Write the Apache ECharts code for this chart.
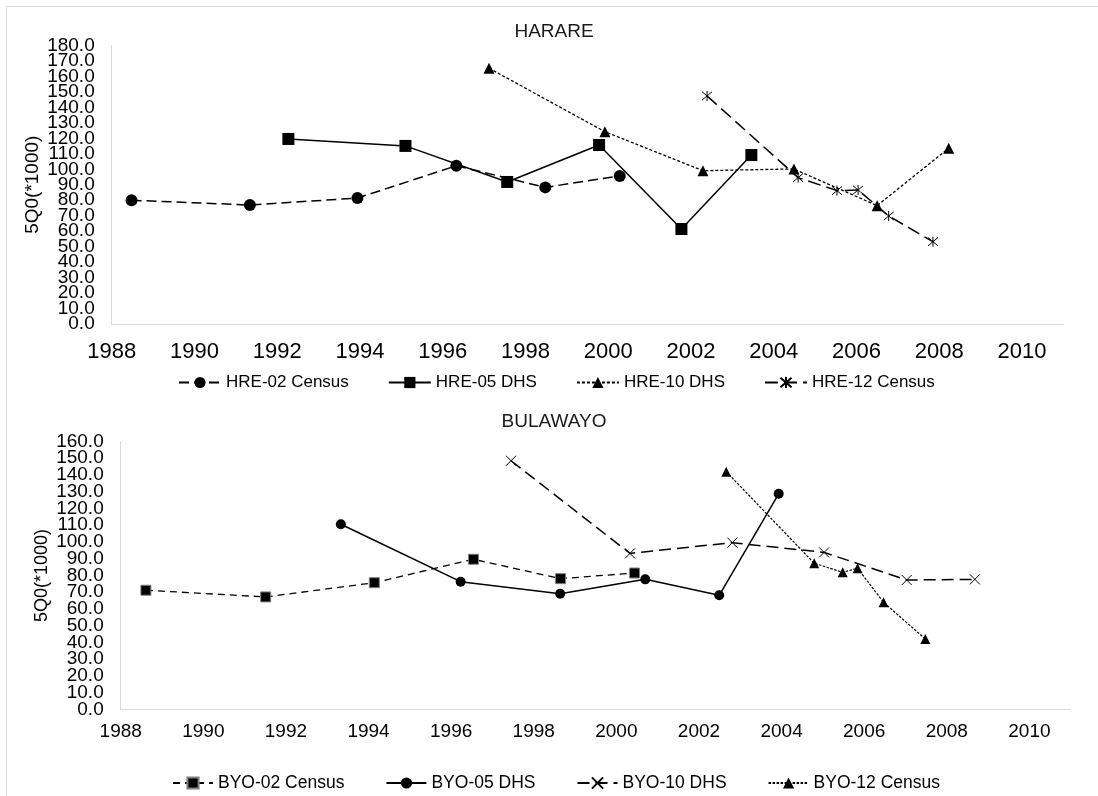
<!DOCTYPE html>
<html>
<head>
<meta charset="utf-8">
<script src="https://cdn.jsdelivr.net/npm/echarts@6/dist/echarts.min.js"></script>
<style>html,body{margin:0;padding:0;background:#fff}#c{width:1098px;height:796px}</style>
</head>
<body>
<div id="c"></div>
<script>
// ---- Data (years, 5Q0 per 1000) ----
const hre02Years = [1988.48, 1991.34, 1993.94, 1996.33, 1998.48, 2000.28];
const hre02Vals  = [80.0, 76.9, 81.4, 102.3, 88.3, 95.7];
const hre05Years = [1992.27, 1995.10, 1997.56, 1999.78, 2001.77, 2003.46];
const hre05Vals  = [119.6, 115.1, 91.8, 115.7, 61.4, 109.2];
const hre10Years = [1997.12, 1999.92, 2002.29, 2004.49, 2006.50, 2008.23];
const hre10Vals  = [165.3, 124.3, 99.1, 100.2, 76.5, 113.6];
const hre12Years = [2002.39, 2004.59, 2005.53, 2006.04, 2006.78, 2007.85];
const hre12Vals  = [147.4, 94.6, 86.2, 86.6, 69.8, 53.2];

const byo02Years = [1988.61, 1991.51, 1994.14, 1996.54, 1998.65, 2000.44];
const byo02Vals  = [71.2, 67.2, 75.7, 89.7, 78.1, 81.5];
const byo05Years = [1993.33, 1996.23, 1998.64, 2000.70, 2002.49, 2003.93];
const byo05Vals  = [110.6, 76.3, 69.1, 77.7, 68.2, 128.8];
const byo10Years = [1997.45, 2000.33, 2002.81, 2005.03, 2007.03, 2008.68];
const byo10Vals  = [148.5, 93.2, 99.6, 93.8, 77.3, 77.7];
const byo12Years = [2002.66, 2004.79, 2005.48, 2005.84, 2006.47, 2007.48];
const byo12Vals  = [142.0, 87.3, 81.9, 84.3, 64.0, 42.1];

const hreNames = ['HRE-02 Census', 'HRE-05 DHS', 'HRE-10 DHS', 'HRE-12 Census'];
const byoNames = ['BYO-02 Census', 'BYO-05 DHS', 'BYO-10 DHS', 'BYO-12 Census'];
const titles = ['HARARE', 'BULAWAYO'];
const yAxisTitle = '5Q0(*1000)';
const xMin = 1988, xMax = 2011, xStep = 2;
const hreYMax = 180, byoYMax = 160, yStep = 10;

function pairs(xs, ys) { return xs.map((x, i) => [x, ys[i]]); }

const FONT = 'Liberation Sans, Arial, sans-serif';
const ASTER = 'path://M0,0L10,10M10,0L0,10M5,-1L5,11';
const XMARK = 'path://M0,0L10,10M10,0L0,10';

// plot areas
const G0 = { left: 111.7, top: 45.5, width: 951.6, height: 278.5 };
const G1 = { left: 120.7, top: 441.5, width: 950, height: 268 };
// auxiliary label grids: same scale, holding the odd tick labels (10, 30, ...)
function auxGrid(g, max) {
  const pxPer = g.height / max;
  return { left: g.left, width: g.width, top: g.top + yStep * pxPer, height: (max - 2 * yStep) * pxPer };
}

function mkX(gi, fs, margin, show) {
  return {
    type: 'value', gridIndex: gi, min: xMin, max: xMax, interval: xStep, show: show,
    axisLine: { show: true, lineStyle: { color: '#d9d9d9', width: 1 } },
    axisTick: { show: false }, splitLine: { show: false },
    axisLabel: { show: true, fontSize: fs, fontFamily: FONT, color: '#000', margin: margin,
      showMinLabel: true, showMaxLabel: false, formatter: v => String(v) }
  };
}
function mkY(gi, min, max, fs, nameFs, gap, main) {
  return {
    type: 'value', gridIndex: gi, min: min, max: max, interval: 2 * yStep,
    name: main ? yAxisTitle : '', nameLocation: 'middle', nameGap: gap, nameMoveOverlap: false,
    nameTextStyle: { fontSize: nameFs, fontFamily: FONT, color: '#000' },
    axisLine: { show: main, lineStyle: { color: '#d9d9d9', width: 1 } },
    axisTick: { show: false }, splitLine: { show: false },
    axisLabel: { fontSize: fs, fontFamily: FONT, color: '#000', margin: 17,
      showMinLabel: true, showMaxLabel: true,
      formatter: v => v.toFixed(1) }
  };
}
function line(name, data, gi, symbol, size, lineType, width, extraItem) {
  return {
    type: 'line', name: name, data: data, xAxisIndex: gi, yAxisIndex: gi,
    symbol: symbol, symbolSize: size, showSymbol: true, animation: false,
    lineStyle: { color: '#000', width: width, type: lineType },
    itemStyle: Object.assign({ color: '#000' }, extraItem || {}),
    emphasis: { disabled: true }, z: 3
  };
}

const chart = echarts.init(document.getElementById('c'), null, { renderer: 'canvas' });
chart.setOption({
  backgroundColor: '#fff',
  animation: false,
  graphic: [{
    type: 'rect', silent: true, z: -10,
    shape: { x: 6.5, y: 6.5, width: 1200, height: 1200 },
    style: { fill: 'none', stroke: '#d9d9d9', lineWidth: 1 }
  }],
  title: [
    { text: titles[0], left: 554, top: 22, textAlign: 'center', padding: 0,
      textStyle: { fontSize: 19, fontWeight: 'normal', fontFamily: FONT, color: '#1a1a1a' } },
    { text: titles[1], left: 554, top: 412, textAlign: 'center', padding: 0,
      textStyle: { fontSize: 19, fontWeight: 'normal', fontFamily: FONT, color: '#1a1a1a' } }
  ],
  legend: [
    { data: hreNames, left: 178, top: 374, padding: 0, itemGap: 39, itemWidth: 42, itemHeight: 14,
      textStyle: { fontSize: 17, fontFamily: FONT, color: '#000' }, selectedMode: false },
    { data: byoNames, left: 172, top: 774, padding: 0, itemGap: 41, itemWidth: 40, itemHeight: 14,
      textStyle: { fontSize: 17.5, fontFamily: FONT, color: '#000' }, selectedMode: false }
  ],
  grid: [G0, G1, auxGrid(G0, hreYMax), auxGrid(G1, byoYMax)],
  xAxis: [mkX(0, 22, 17, true), mkX(1, 19, 13, true), mkX(2, 22, 17, false), mkX(3, 19, 13, false)],
  yAxis: [
    mkY(0, 0, hreYMax, 19, 19, 69, true),
    mkY(1, 0, byoYMax, 19, 18, 70, true),
    mkY(2, yStep, hreYMax - yStep, 19, 19, 69, false),
    mkY(3, yStep, byoYMax - yStep, 19, 18, 70, false)
  ],
  series: [
    line(hreNames[0], pairs(hre02Years, hre02Vals), 0, 'circle', 12, [10, 5], 1.5),
    line(hreNames[1], pairs(hre05Years, hre05Vals), 0, 'rect', 12, 'solid', 1.5),
    line(hreNames[2], pairs(hre10Years, hre10Vals), 0, 'triangle', 11, [3, 2], 1.3),
    line(hreNames[3], pairs(hre12Years, hre12Vals), 0, ASTER, 10, [13, 6], 1.5,
      { color: 'none', borderColor: '#000', borderWidth: 1 }),
    line(byoNames[0], pairs(byo02Years, byo02Vals), 1, 'rect', 10, [7, 5], 1.3,
      { borderColor: '#808080', borderWidth: 1 }),
    line(byoNames[1], pairs(byo05Years, byo05Vals), 1, 'circle', 10, 'solid', 1.5),
    line(byoNames[2], pairs(byo10Years, byo10Vals), 1, XMARK, 10, [12, 6], 1.5,
      { color: 'none', borderColor: '#000', borderWidth: 1 }),
    line(byoNames[3], pairs(byo12Years, byo12Vals), 1, 'triangle', 10, [2.5, 1.5], 1.2)
  ]
});
</script>
</body>
</html>
